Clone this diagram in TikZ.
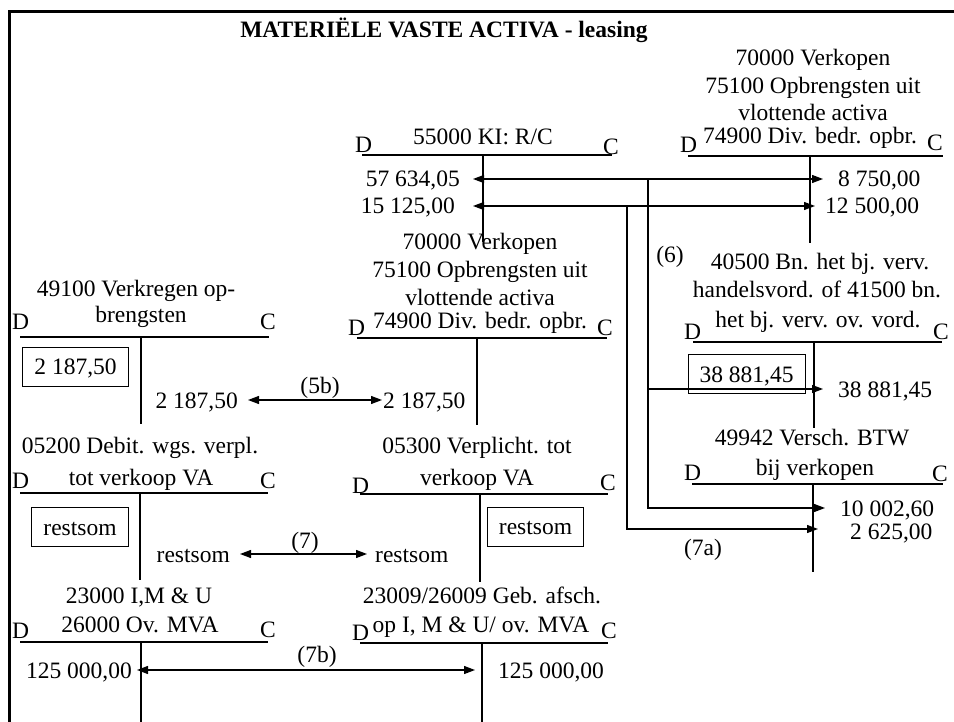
\documentclass[tikz,border=0pt]{standalone}
\usepackage{fontspec}
\setmainfont{Liberation Serif}
\usetikzlibrary{arrows.meta}
\tikzset{
  txt/.style={inner sep=0pt, font=\fontsize{23.5}{28}\selectfont},
  hd/.style={txt, anchor=base},
  dc/.style={txt, anchor=base west},
  amtL/.style={txt, text height=17pt, text depth=1pt, anchor=east},
  amtR/.style={txt, text height=17pt, text depth=1pt, anchor=west},
  boxed/.style={txt, draw, line width=0.9pt, text height=17pt, text depth=1pt, inner xsep=11.5pt, inner ysep=10.5pt},
  tline/.style={line width=1.3pt},
  link/.style={line width=1.3pt, -{Triangle[length=11pt,width=8pt]}},
  dbl/.style={line width=1.3pt, {Triangle[length=11pt,width=8pt]}-{Triangle[length=11pt,width=8pt]}},
}
\begin{document}
\begin{tikzpicture}[x=1pt,y=-1pt]
  \useasboundingbox (0,0) rectangle (954,722);
  \draw[line width=2.5pt] (9.5,722) -- (9.5,11.5) -- (954,11.5);
  \node[hd, font=\fontsize{23.5}{28}\selectfont\bfseries] (title) at (444,38) {MATERIËLE VASTE ACTIVA - leasing};

  % 55000 KI: R/C
  \node[hd] (kiR) at (483,145) {55000 KI: R/C};
  \node[dc] (kiD) at (355,153) {D};
  \node[dc] (kiC) at (603,155) {C};
  \draw[tline] (362,155) -- (612,155) (483,155) -- (483,242);

  % 74900 top right
  \node[hd] (vkA) at (813,66) {70000 Verkopen};
  \node[hd] (vkB) at (813,94) {75100 Opbrengsten uit};
  \node[hd] (vkC) at (813,121) {vlottende activa};
  \node[hd] (vkE) at (810,144) {74900 Div. bedr. opbr.};
  \node[dc] (vkDd) at (680,153) {D};
  \node[dc] (vkCc) at (927,151) {C};
  \draw[tline] (688,156) -- (943,156) (810,156) -- (810,243);

  % 49100
  \node[hd] (voA) at (136,297) {49100 Verkregen op-};
  \node[hd] (voB) at (141,323) {brengsten};
  \node[dc] (voD) at (12,330) {D};
  \node[dc] (voC) at (260,330) {C};
  \draw[tline] (20,337) -- (269,337) (141,337) -- (141,424);

  % 74900 middle
  \node[hd] (dbA) at (480,250) {70000 Verkopen};
  \node[hd] (dbB) at (480,278) {75100 Opbrengsten uit};
  \node[hd] (dbC) at (480,306) {vlottende activa};
  \node[hd] (dbE) at (480,329) {74900 Div. bedr. opbr.};
  \node[dc] (dbD) at (348,335) {D};
  \node[dc] (dbCc) at (597,335) {C};
  \draw[tline] (357,338) -- (607,338) (477,338) -- (477,425);

  % 40500
  \node[hd] (hvA) at (820,270) {40500 Bn. het bj. verv.};
  \node[hd] (hvB) at (817,298) {handelsvord. of 41500 bn.};
  \node[hd] (hvC) at (818,327) {het bj. verv. ov. vord.};
  \node[dc] (hvD) at (684,340) {D};
  \node[dc] (hvCc) at (933,340) {C};
  \draw[tline] (693,342) -- (942,342) (814,342) -- (814,428);

  % 49942
  \node[hd] (btA) at (812,445) {49942 Versch. BTW};
  \node[hd] (btB) at (815,475) {bij verkopen};
  \node[dc] (btD) at (684,480) {D};
  \node[dc] (btC) at (932,481) {C};
  \draw[tline] (692,484) -- (943,484) (813,484) -- (813,572);

  % 05200
  \node[hd] (deA) at (140,453) {05200 Debit. wgs. verpl.};
  \node[hd] (deB) at (141,485) {tot verkoop VA};
  \node[dc] (deD) at (12,488) {D};
  \node[dc] (deC) at (260,488) {C};
  \draw[tline] (20,493) -- (268,493) (140,493) -- (140,580);

  % 05300
  \node[hd] (veA) at (477,453) {05300 Verplicht. tot};
  \node[hd] (veB) at (477,485) {verkoop VA};
  \node[dc] (veD) at (352,493) {D};
  \node[dc] (veC) at (600,490) {C};
  \draw[tline] (360,494) -- (608,494) (480,494) -- (480,582);

  % 23000
  \node[hd] (imA) at (139,603) {23000 I,M \& U};
  \node[hd] (imB) at (140,632) {26000 Ov. MVA};
  \node[dc] (imD) at (12,638) {D};
  \node[dc] (imC) at (260,637) {C};
  \draw[tline] (20,642) -- (268,642) (141,642) -- (141,722);

  % 23009
  \node[hd] (afA) at (482,603) {23009/26009 Geb. afsch.};
  \node[hd] (afB) at (481,632) {op I, M \& U/ ov. MVA};
  \node[dc] (afD) at (352,640) {D};
  \node[dc] (afC) at (601,638) {C};
  \draw[tline] (360,643) -- (608,643) (482,643) -- (482,722);

  % amounts (6), (7a)
  \node[amtL] (kiA) at (460,179) {57 634,05};
  \node[amtL] (kiB) at (455,206) {15 125,00};
  \node[amtR] (vkX) at (838,179) {8 750,00};
  \node[amtR] (vkY) at (825,206) {12 500,00};
  \node[amtR] (hvX) at (838,389) {38 881,45};
  \node[amtR] (btX) at (840,508) {10 002,60};
  \node[amtR] (btY) at (850,531) {2 625,00};
  \node[boxed] (hvBox) at (746.5,374) {38 881,45};
  \draw[dbl] ([xshift=13pt]kiA.east) -- ([xshift=-15pt]vkX.west);
  \draw[dbl] ([xshift=18pt]kiB.east) -- ([xshift=-10pt]vkY.west);
  \coordinate (j6) at (648,179);
  \coordinate (j7a) at (627,206);
  \draw[link] (j6) |- ([xshift=-15pt]hvX.west);
  \draw[link] (j6) |- ([xshift=-15pt]btX.west);
  \draw[link] (j7a) |- ([xshift=-32pt,yshift=2pt]btY.west);
  \node[hd] (l6) at (670,263) {(6)};
  \node[hd] (l7a) at (703,555) {(7a)};

  % (5b)
  \node[boxed] (voBox) at (75.5,366.5) {2 187,50};
  \node[amtL] (voX) at (238,400) {2 187,50};
  \node[amtR] (dbX) at (383,400) {2 187,50};
  \draw[dbl] ([xshift=10pt]voX.east) -- ([xshift=-1pt]dbX.west);
  \node[hd] (l5b) at (320,393) {(5b)};

  % (7)
  \node[boxed] (deBox) at (80,527) {restsom};
  \node[boxed] (veBox) at (535.5,526.5) {restsom};
  \node[amtL] (deX) at (230,554) {restsom};
  \node[amtR] (veX) at (375,554) {restsom};
  \draw[dbl] ([xshift=10pt]deX.east) -- ([xshift=-8pt]veX.west);
  \node[hd] (l7) at (305,548) {(7)};

  % (7b)
  \node[amtL] (imX) at (132,670) {125 000,00};
  \node[amtR] (afX) at (498,670) {125 000,00};
  \draw[dbl] ([xshift=5pt]imX.east) -- ([xshift=-23pt]afX.west);
  \node[hd] (l7b) at (317,662) {(7b)};
\end{tikzpicture}
\end{document}
